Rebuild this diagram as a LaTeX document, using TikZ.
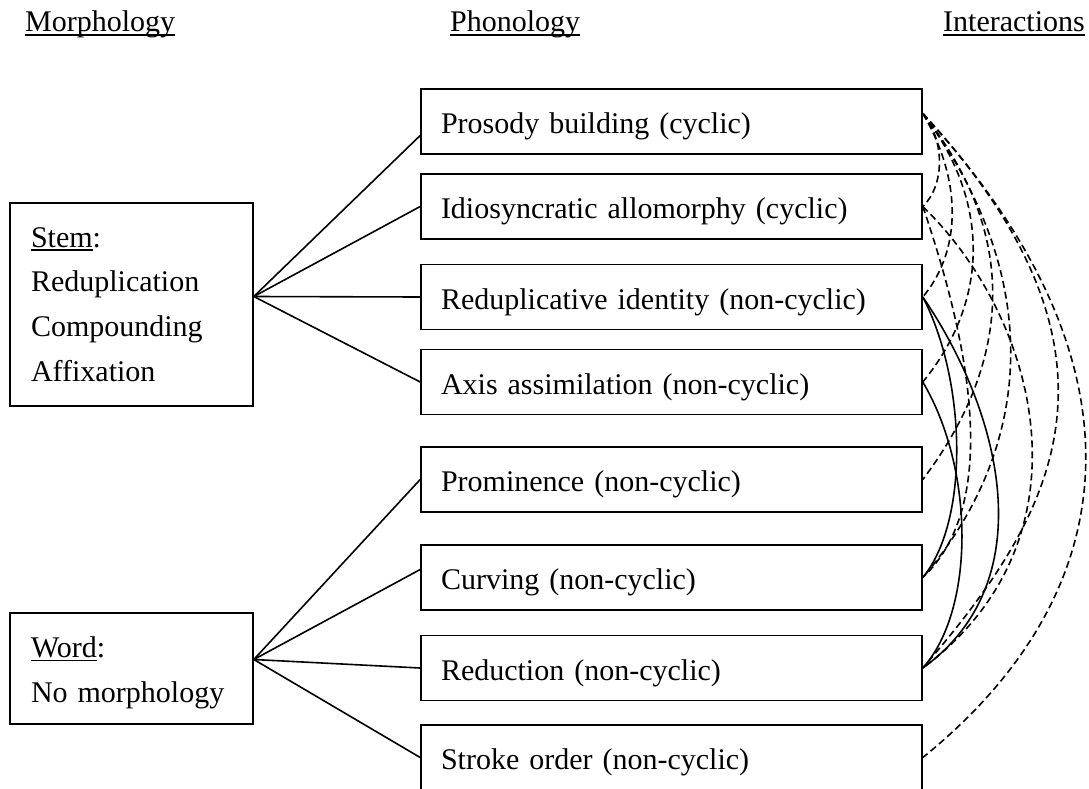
\documentclass[tikz,border=0pt]{standalone}
\usepackage{fontspec}
\setmainfont{Liberation Serif}
\usepackage{tikz}

\newcommand{\undl}[1]{\setbox0=\hbox{#1}\rlap{\rule[-3.8pt]{\wd0}{1.6pt}}\box0}

\begin{document}
\begin{tikzpicture}[x=1pt, y=-1pt,
    every node/.style={font=\fontsize{30pt}{44.7pt}\selectfont},
    title/.style={anchor=base west, inner sep=0pt},
    morph/.style={draw, line width=1.6pt, minimum width=243pt, text width=201pt,
        inner xsep=21pt, inner ysep=0pt, align=left},
    phon/.style={draw, line width=1.6pt, minimum width=501pt, minimum height=65pt,
        text width=461pt, inner xsep=20pt, inner ysep=0pt, align=left,
        text height=28pt, text depth=4pt},
    link/.style={line width=1.6pt},
    inter/.style={line width=1.6pt, dash pattern=on 7pt off 4pt}]

    \useasboundingbox (0,0) rectangle (1089,789);

    % Titulos das colunas
    \node[title] (tmorph) at (25,32) {\undl{Morphology}};
    \node[title] (tphon) at (450,32) {\undl{Phonology}};
    \node[title] (tinter) at (943,32) {\undl{Interactions}};

    % Caixas de morfologia
    \node[morph, minimum height=203pt] (stem) at (131.5,304.5)
        {\undl{Stem}:\\Reduplication\\Compounding\\Affixation};
    \node[morph, minimum height=111pt, text height=21pt, text depth=43pt] (word) at (131.5,668.5)
        {\undl{Word}:\\No morphology};

    % Caixas de fonologia
    \node[phon] (prosody) at (671.5,121.5) {Prosody building (cyclic)};
    \node[phon] (idio) at (671.5,206.5) {Idiosyncratic allomorphy (cyclic)};
    \node[phon] (redup) at (671.5,297) {Reduplicative identity (non-cyclic)};
    \node[phon] (axis) at (671.5,382) {Axis assimilation (non-cyclic)};
    \node[phon] (prom) at (671.5,479.5) {Prominence (non-cyclic)};
    \node[phon] (curv) at (671.5,577.5) {Curving (non-cyclic)};
    \node[phon] (reduc) at (671.5,668) {Reduction (non-cyclic)};
    \node[phon] (stroke) at (671.5,757.5) {Stroke order (non-cyclic)};

    % Leque do radical
    \coordinate (sm) at ([yshift=8pt]stem.east);
    \draw[link] (sm) -- ([yshift=-14pt]prosody.west);
    \draw[link] (sm) -- (idio.west);
    \draw[link] (sm) -- (redup.west);
    \draw[link] (sm) -- (axis.west);

    % Leque da palavra
    \coordinate (wm) at ([yshift=9pt]word.east);
    \draw[link] (wm) -- (prom.west);
    \draw[link] (wm) -- ([yshift=8pt]curv.west);
    \draw[link] (wm) -- (reduc.west);
    \draw[link] (wm) -- (stroke.west);

    % Interacoes tracejadas
    \coordinate (r1) at ([yshift=8pt]prosody.east);
    \draw[inter] (r1) .. controls (945,140) and (945,185) .. (idio.east);
    \draw[inter] (r1) .. controls (962,180) and (962,250) .. (redup.east);
    \draw[inter] (r1) .. controls (990,200) and (990,300) .. (axis.east);
    \draw[inter] (r1) .. controls (1016,230) and (1016,356) .. (prom.east);
    \draw[inter] (r1) .. controls (1040,270) and (1040,440) .. (curv.east);
    \draw[inter] (r1) .. controls (1150,360) and (1050,520) .. (reduc.east);
    \draw[inter] (r1) .. controls (1150,360) and (1130,590) .. (stroke.east);
    \draw[inter] (idio.east) .. controls (965,330) and (1005,500) .. (curv.east);
    \draw[inter] (idio.east) .. controls (1040,320) and (1095,540) .. (reduc.east);

    % Interacoes continuas
    \draw[link] (redup.east) .. controls (966,380) and (970,520) .. (curv.east);
    \draw[link] (redup.east) .. controls (1000,410) and (1045,580) .. (reduc.east);
    \draw[link] (axis.east) .. controls (975,470) and (975,610) .. (reduc.east);
\end{tikzpicture}
\end{document}
